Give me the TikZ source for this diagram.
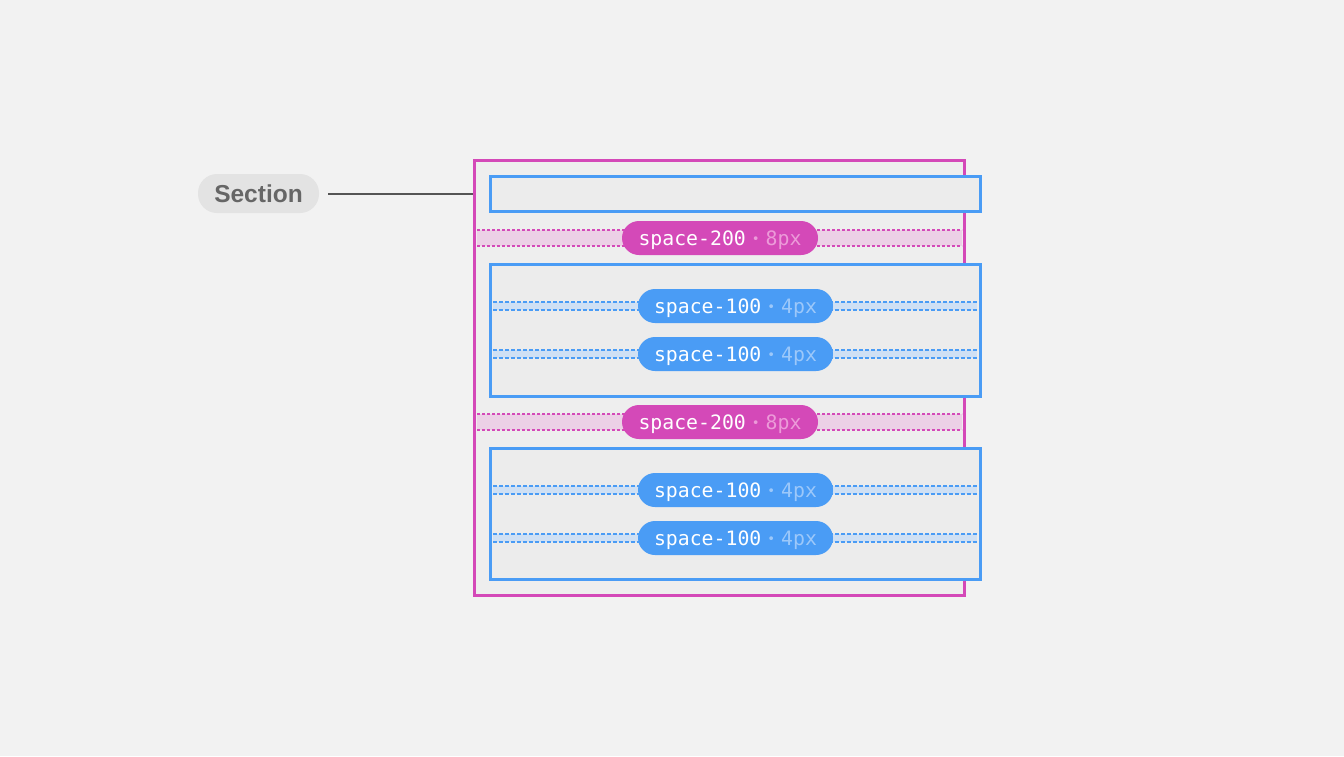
\documentclass[tikz,border=0pt]{standalone}
\usepackage{fontspec}
\setsansfont{Liberation Sans}
\newfontfamily\monofnt{DejaVu Sans Mono}
\usetikzlibrary{positioning}
\definecolor{bgcol}{HTML}{F2F2F2}
\definecolor{framecol}{HTML}{D449B8}
\definecolor{framefill}{HTML}{EEEEEE}
\definecolor{boxcol}{HTML}{4A9CF5}
\definecolor{boxfill}{HTML}{ECECEC}
\definecolor{pinkband}{HTML}{ECD0E6}
\definecolor{blueband}{HTML}{CFE0F4}
\definecolor{pinkdim}{HTML}{EC9BD9}
\definecolor{bluedim}{HTML}{9CC8FA}
\definecolor{tagfill}{HTML}{E3E3E3}
\definecolor{tagtext}{HTML}{666666}
\definecolor{leadcol}{HTML}{555555}

\newcommand{\pilltext}[2]{space-#1\hspace{6pt}\raisebox{1.5pt}{\fontsize{13}{13}\selectfont\textcolor{#2}{•}}\hspace{6pt}}

\begin{document}
\begin{tikzpicture}[x=1pt,y=-1pt,
    pill/.style={rectangle, rounded corners=17pt, minimum height=34pt, inner sep=0pt,
        text height=18pt, text depth=4pt,
        text=white, font=\monofnt\fontsize{19.8}{19.8}\selectfont},
    spacebox/.style={draw=boxcol, line width=3pt, fill=boxfill, minimum width=490pt, inner sep=0pt}]
    \useasboundingbox[fill=bgcol] (0,0) rectangle (1344,756);

    % section frame and its children
    \node[draw=framecol, line width=3pt, fill=framefill, minimum width=490pt, minimum height=435pt, inner sep=0pt] (frame) at (719,377.5) {};
    \node[spacebox, minimum height=35pt] (box1) at (735,193.5) {};
    \node[spacebox, minimum height=132pt] (box2) at (735,330) {};
    \node[spacebox, minimum height=131pt] (box3) at (735,513.5) {};

    % gaps between the children
    \foreach \y in {238,422} {
        \fill[pinkband] (477,\y-8) rectangle (962,\y+8);
        \draw[framecol, line width=1.2pt, dash pattern=on 3pt off 2pt] (477,\y-8) -- (962,\y-8);
        \draw[framecol, line width=1.2pt, dash pattern=on 3pt off 2pt] (477,\y+8) -- (962,\y+8);
    }
    \foreach \y in {306,354,490,538} {
        \fill[blueband] (493,\y-4) rectangle (977,\y+4);
        \draw[boxcol, line width=1.2pt, dash pattern=on 4pt off 2pt] (493,\y-4) -- (977,\y-4);
        \draw[boxcol, line width=1.2pt, dash pattern=on 4pt off 2pt] (493,\y+4) -- (977,\y+4);
    }

    \node[pill, fill=framecol, minimum width=196pt] (gap1) at (720,238) {\pilltext{200}{pinkdim}\textcolor{pinkdim}{8px}};
    \node[pill, fill=framecol, minimum width=196pt] (gap2) at (720,422) {\pilltext{200}{pinkdim}\textcolor{pinkdim}{8px}};
    \node[pill, fill=boxcol, minimum width=195pt] (gap3) at (735.5,306) {\pilltext{100}{bluedim}\textcolor{bluedim}{4px}};
    \node[pill, fill=boxcol, minimum width=195pt] (gap4) at (735.5,354) {\pilltext{100}{bluedim}\textcolor{bluedim}{4px}};
    \node[pill, fill=boxcol, minimum width=195pt] (gap5) at (735.5,490) {\pilltext{100}{bluedim}\textcolor{bluedim}{4px}};
    \node[pill, fill=boxcol, minimum width=195pt] (gap6) at (735.5,538) {\pilltext{100}{bluedim}\textcolor{bluedim}{4px}};

    % label
    \node[rectangle, rounded corners=19pt, fill=tagfill, minimum width=121pt, minimum height=39pt, inner sep=0pt,
        text=tagtext, font=\sffamily\bfseries\fontsize{24.5}{24.5}\selectfont] (sec) at (258.5,193.5) {Section};
    \draw[leadcol, line width=2pt, shorten <=9pt] (sec.east) -- (sec.east -| frame.west);
\end{tikzpicture}
\end{document}
